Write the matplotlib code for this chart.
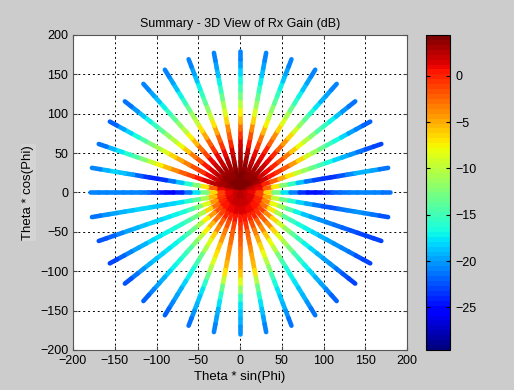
import numpy as np
import matplotlib
matplotlib.use("Agg")
import matplotlib.pyplot as plt
from matplotlib.collections import LineCollection
from matplotlib.colors import Normalize

plt.rcParams['font.family'] = ['Liberation Sans', 'DejaVu Sans']

# spoke directions (deg) and sample angles along each spoke
PHI = list(range(0, 360, 10))
THETA = list(range(0, 190, 10))

# gain (dB), one row per Phi, one column per Theta
GAIN = [
    [4.4, 4.4, 4.3, 4.0, 3.5, 3.0, 2.0, 0.5, -1.5, -4.0, -6.5, -9.0, -11.5, -14.0, -16.0, -17.5, -19.0, -20.5, -21.5],  # 0
    [4.4, 4.4, 4.2, 3.9, 3.3, 2.5, 1.0, -0.5, -2.5, -5.0, -7.5, -10.0, -12.5, -14.5, -16.5, -18.0, -19.5, -20.5, -21.5],  # 10
    [4.4, 4.3, 4.1, 3.6, 2.8, 1.5, 0.0, -2.0, -4.0, -6.5, -9.0, -11.0, -13.0, -15.0, -16.5, -18.0, -19.5, -20.5, -21.5],  # 20
    [4.4, 4.3, 4.0, 3.5, 2.5, 1.5, 0.5, -1.0, -3.0, -5.0, -7.5, -10.0, -12.0, -14.5, -16.5, -18.0, -19.5, -20.5, -21.5],  # 30
    [4.4, 4.3, 4.0, 3.4, 2.5, 1.5, 0.5, -1.0, -3.0, -5.5, -8.0, -10.5, -13.0, -15.0, -17.0, -18.5, -19.5, -20.5, -21.5],  # 40
    [4.3, 4.2, 3.8, 3.0, 1.5, 0.5, -0.5, -2.5, -4.5, -7.0, -9.0, -11.5, -13.5, -15.0, -16.5, -18.0, -19.5, -21.0, -22.0],  # 50
    [4.2, 4.0, 3.5, 2.5, 1.0, 0.0, -1.5, -3.5, -5.0, -8.0, -10.5, -12.5, -14.5, -16.0, -17.5, -19.0, -20.5, -21.5, -22.5],  # 60
    [4.0, 3.5, 2.0, 0.5, -1.0, -4.0, -6.0, -8.5, -10.5, -12.5, -14.0, -16.0, -17.5, -19.0, -20.0, -21.0, -22.0, -22.5, -23.0],  # 70
    [3.5, 2.5, 1.5, 0.0, -4.0, -10.0, -14.5, -17.0, -20.0, -22.5, -23.5, -24.0, -23.0, -21.5, -20.0, -19.0, -19.5, -20.5, -22.0],  # 80
    [2.5, 1.5, 0.5, -3.0, -10.0, -16.0, -19.5, -22.5, -24.5, -25.0, -24.0, -22.5, -21.5, -21.0, -21.0, -21.0, -21.0, -21.0, -21.5],  # 90
    [2.0, 1.5, 0.5, -2.5, -7.0, -12.0, -15.0, -17.0, -19.0, -21.0, -22.0, -23.0, -22.0, -21.0, -20.5, -20.5, -21.0, -22.0, -22.5],  # 100
    [2.0, 1.5, 1.0, -1.5, -6.0, -10.0, -13.0, -16.0, -18.0, -19.5, -20.0, -20.5, -21.0, -21.5, -22.0, -22.5, -23.0, -23.0, -23.0],  # 110
    [2.0, 1.5, 1.0, -1.0, -5.0, -9.0, -12.5, -15.0, -16.5, -17.0, -17.5, -18.5, -19.5, -20.0, -20.5, -21.0, -22.0, -22.5, -23.0],  # 120
    [2.0, 1.5, 1.0, 0.0, -2.5, -5.0, -8.0, -10.5, -13.0, -15.0, -16.5, -17.5, -18.5, -19.5, -20.0, -21.0, -22.0, -22.5, -23.0],  # 130
    [2.0, 1.5, 1.0, 0.0, -1.5, -3.0, -5.0, -7.5, -9.5, -12.0, -14.0, -15.5, -16.5, -17.5, -18.5, -19.5, -20.5, -21.5, -22.0],  # 140
    [2.5, 2.0, 1.5, 0.5, -1.0, -3.0, -5.0, -7.0, -9.0, -11.5, -14.0, -16.0, -17.0, -17.5, -18.0, -19.0, -20.0, -21.0, -22.0],  # 150
    [3.0, 2.5, 1.5, 0.5, -1.0, -2.5, -4.0, -5.5, -7.5, -9.0, -11.0, -13.5, -16.0, -17.0, -18.0, -19.0, -20.0, -21.0, -22.0],  # 160
    [3.0, 2.5, 2.0, 1.0, 0.0, -1.5, -2.5, -3.5, -4.5, -5.0, -6.0, -8.5, -12.0, -15.0, -17.0, -18.0, -19.5, -20.5, -21.5],  # 170
    [3.0, 2.5, 2.0, 1.0, 0.0, -1.0, -2.0, -3.0, -3.5, -4.0, -5.0, -7.0, -10.0, -14.0, -17.0, -18.0, -19.0, -20.0, -21.0],  # 180
    [3.0, 2.5, 2.0, 1.0, -0.5, -1.5, -2.5, -3.5, -4.0, -5.0, -6.0, -8.0, -11.5, -15.0, -17.0, -18.5, -19.5, -20.5, -21.5],  # 190
    [3.0, 2.5, 1.5, 0.5, -1.0, -2.5, -4.0, -5.0, -6.5, -8.0, -9.5, -12.0, -15.0, -17.0, -18.0, -19.0, -20.0, -21.0, -22.0],  # 200
    [2.5, 2.0, 1.5, 0.5, -1.0, -3.0, -5.0, -7.5, -9.5, -12.0, -14.5, -16.0, -17.0, -17.5, -18.5, -19.5, -20.5, -21.5, -22.0],  # 210
    [2.0, 1.5, 1.0, 0.0, -2.0, -4.0, -6.5, -9.0, -11.5, -13.5, -15.0, -16.0, -17.0, -17.5, -18.5, -19.5, -20.5, -21.5, -22.5],  # 220
    [2.0, 1.5, 1.0, 0.0, -3.0, -6.0, -9.0, -12.0, -14.5, -16.0, -17.0, -17.5, -18.0, -18.5, -19.0, -20.0, -21.0, -22.0, -23.0],  # 230
    [2.0, 1.5, 1.0, -1.0, -4.5, -9.0, -12.0, -14.5, -16.0, -16.5, -17.0, -17.5, -18.0, -18.5, -19.5, -20.5, -21.5, -22.5, -23.0],  # 240
    [2.0, 1.5, 0.5, -2.0, -6.5, -11.0, -14.0, -16.0, -17.0, -17.5, -18.0, -18.0, -18.5, -19.0, -19.5, -20.5, -21.5, -22.0, -22.5],  # 250
    [2.0, 1.5, 0.5, -2.5, -8.0, -13.0, -15.0, -17.0, -18.0, -18.5, -19.0, -18.5, -18.0, -18.5, -19.0, -19.5, -20.0, -21.0, -22.0],  # 260
    [2.0, 1.5, 0.5, -3.0, -10.0, -16.0, -19.5, -23.0, -25.0, -25.0, -24.0, -22.0, -21.0, -21.0, -21.0, -21.0, -21.0, -21.0, -21.0],  # 270
    [3.0, 2.5, 1.5, 0.0, -4.0, -10.0, -15.0, -17.0, -20.0, -23.0, -24.0, -24.0, -23.0, -21.0, -19.0, -18.0, -18.0, -20.0, -22.0],  # 280
    [4.2, 4.0, 3.6, 3.0, 2.2, 1.0, -0.5, -1.5, -3.0, -4.5, -6.5, -8.5, -11.0, -13.5, -15.5, -17.0, -18.5, -20.5, -22.0],  # 290
    [4.2, 4.0, 3.5, 2.5, 1.5, 0.0, -1.0, -2.5, -4.0, -6.0, -7.5, -9.5, -11.5, -13.5, -15.5, -17.5, -19.0, -21.0, -22.5],  # 300
    [4.3, 4.1, 3.8, 3.0, 2.0, 1.0, -0.5, -2.5, -4.5, -7.0, -9.0, -11.0, -13.0, -15.0, -16.5, -18.0, -19.5, -21.0, -22.0],  # 310
    [4.4, 4.2, 4.0, 3.5, 2.5, 1.5, 0.0, -2.0, -4.0, -6.5, -9.0, -11.0, -13.0, -15.0, -16.5, -18.0, -19.5, -20.5, -21.5],  # 320
    [4.4, 4.3, 4.0, 3.5, 2.5, 1.5, 0.0, -1.5, -3.5, -6.0, -8.5, -10.5, -12.5, -14.5, -16.5, -18.0, -19.5, -20.5, -21.5],  # 330
    [4.4, 4.3, 4.1, 3.6, 2.8, 1.8, 0.5, -1.5, -3.5, -6.0, -8.5, -10.5, -13.0, -15.0, -16.5, -18.0, -19.5, -20.5, -21.5],  # 340
    [4.4, 4.4, 4.2, 3.8, 3.0, 2.0, 0.5, -1.0, -3.0, -5.0, -7.5, -9.5, -12.0, -14.5, -16.5, -18.0, -19.5, -20.5, -21.5],  # 350
]

CLIM = (-29.6, 4.4)
TICKS = [-200, -150, -100, -50, 0, 50, 100, 150, 200]
CBAR_TICKS = [0, -5, -10, -15, -20, -25]

BG = '#cccccc'
cmap = plt.get_cmap('jet', 64)
norm = Normalize(*CLIM)

fig = plt.figure(figsize=(5.14, 3.9), dpi=100, facecolor=BG)
ax = fig.add_axes([0.142, 0.1026, 0.650, 0.8077])
cax = fig.add_axes([0.829, 0.1026, 0.047, 0.8077])

theta = np.array(THETA, dtype=float)
# lower spokes first so the dark red core of the upper half sits on top
order = sorted(range(len(PHI)), key=lambda i: -abs(PHI[i] - 180))
for i in order:
    p = np.radians(PHI[i])
    g = np.array(GAIN[i])
    pts = np.column_stack([theta * np.sin(p), theta * np.cos(p)])
    segs = np.stack([pts[:-1], pts[1:]], axis=1)
    lc = LineCollection(segs, cmap=cmap, norm=norm, linewidths=3.3,
                        capstyle='round', joinstyle='round')
    lc.set_array((g[:-1] + g[1:]) / 2)
    ax.add_collection(lc)

ax.set_xlim(-200, 200)
ax.set_ylim(-200, 200)
ax.set_xticks(TICKS)
ax.set_yticks(TICKS)
ax.tick_params(direction='in', top=True, right=True, length=3, labelsize=9,
               color='#444444')
ax.grid(True, color='black', linestyle=(0, (2, 3)), linewidth=0.7)
ax.set_axisbelow(True)
for s in ax.spines.values():
    s.set_color('#555555')
    s.set_linewidth(0.8)

ax.set_title('Summary - 3D View of Rx Gain (dB)', fontsize=9, pad=6)
ax.set_xlabel('Theta * sin(Phi)', fontsize=9.5, labelpad=3)
ax.set_ylabel('Theta * cos(Phi)', fontsize=9.5, labelpad=4,
              bbox=dict(facecolor='#d4d4d4', edgecolor='none', pad=1))

sm = plt.cm.ScalarMappable(norm=norm, cmap=cmap)
cb = fig.colorbar(sm, cax=cax, ticks=CBAR_TICKS)
cb.ax.tick_params(direction='in', length=3, labelsize=9, left=True, right=True)
cb.outline.set_edgecolor('black')
cb.outline.set_linewidth(0.8)

fig.savefig('out.png', dpi=100, facecolor=BG)
